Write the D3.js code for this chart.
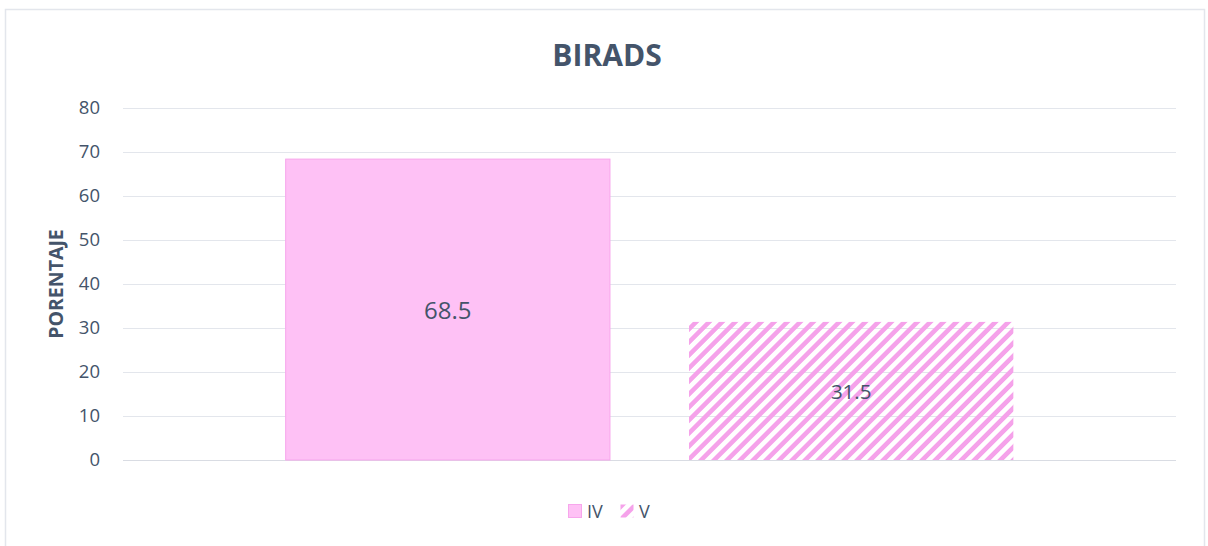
<!doctype html>
<html>
<head>
<meta charset="utf-8">
<script src="https://d3js.org/d3.v7.min.js"></script>
<style>
  body { margin: 0; background: #fff; }
  text { font-family: "Open Sans", "Noto Sans", sans-serif; fill: #44546A; }
</style>
</head>
<body>
<svg width="1208" height="546"></svg>
<script>
    var series = ["IV", "V"];
    var values = [68.5, 31.5];
    var yTicks = [0, 10, 20, 30, 40, 50, 60, 70, 80];
    var title = "BIRADS";
    var yTitle = "PORENTAJE";

    var svg = d3.select("svg"),
        plotLeft = 123, plotRight = 1176,
        plotTop = 108, plotBottom = 460;

    // chart frame
    svg.append("rect")
       .attr("x", 5.5).attr("y", 9.5)
       .attr("width", 1199).attr("height", 545)
       .attr("fill", "#fff")
       .attr("stroke", "#E3E6EC")
       .attr("stroke-width", 1.5);

    var defs = svg.append("defs");
    defs.append("pattern")
        .attr("id", "hatch")
        .attr("patternUnits", "userSpaceOnUse")
        .attr("width", 9.2).attr("height", 9.2)
        .attr("patternTransform", "rotate(45)")
      .append("rect")
        .attr("width", 4.6).attr("height", 9.2)
        .attr("fill", "#F5A2EA");

    var x = d3.scaleBand().domain(series).range([plotLeft, plotRight])
              .paddingInner(0.1935).paddingOuter(0.402);
    var y = d3.scaleLinear().domain([0, 80]).range([plotBottom, plotTop]);

    // gridlines
    svg.append("g").selectAll("line")
       .data(yTicks).enter().append("line")
       .attr("x1", plotLeft).attr("x2", plotRight)
       .attr("y1", function(d) { return y(d) + 0.5; })
       .attr("y2", function(d) { return y(d) + 0.5; })
       .attr("stroke", function(d) { return d === 0 ? "#D9DCE3" : "#E3E6EC"; })
       .attr("stroke-width", 1.2);

    var yAxis = svg.append("g")
       .attr("transform", "translate(" + plotLeft + ",0)")
       .call(d3.axisLeft(y).tickValues(yTicks).tickSize(0).tickPadding(23));
    yAxis.select(".domain").remove();
    yAxis.selectAll("text")
         .attr("font-size", "18.5px")
         .style("font-family", "'Open Sans', sans-serif");

    // bars
    svg.append("g").selectAll("rect")
       .data(values).enter().append("rect")
       .attr("x", function(d, i) { return x(series[i]) + 0.5; })
       .attr("y", function(d) { return y(d) + 0.5; })
       .attr("width", x.bandwidth() - 1)
       .attr("height", function(d) { return plotBottom - y(d) - 0.5; })
       .attr("fill", function(d, i) { return i === 0 ? "#FEC1F5" : "url(#hatch)"; })
       .attr("stroke", function(d, i) { return i === 0 ? "#F7A6EC" : "none"; })
       .attr("stroke-width", 1);

    // data labels
    svg.append("g").selectAll("text")
       .data(values).enter().append("text")
       .attr("x", function(d, i) { return x(series[i]) + x.bandwidth() / 2; })
       .attr("y", function(d, i) { return y(d / 2) + (i === 0 ? 10 : 8); })
       .attr("text-anchor", "middle")
       .attr("font-size", function(d, i) { return i === 0 ? "24px" : "20.5px"; })
       .text(function(d) { return d; });

    svg.append("text")
       .attr("x", 607).attr("y", 66)
       .attr("text-anchor", "middle")
       .attr("font-size", "30px")
       .attr("font-weight", "bold")
       .text(title);

    svg.append("text")
       .attr("transform", "translate(63,284) rotate(-90)")
       .attr("text-anchor", "middle")
       .attr("font-size", "19.5px")
       .attr("font-weight", "bold")
       .text(yTitle);

    // legend
    var legend = svg.append("g").attr("transform", "translate(568,504)");
    var items = legend.selectAll("g").data(series).enter().append("g")
       .attr("transform", function(d, i) { return "translate(" + (i * 52) + ",0)"; });
    items.append("rect")
       .attr("x", 0.5).attr("y", 0.5)
       .attr("width", 13).attr("height", 13)
       .attr("fill", function(d, i) { return i === 0 ? "#FEC1F5" : "url(#hatch)"; })
       .attr("stroke", function(d, i) { return i === 0 ? "#F7A6EC" : "none"; });
    items.append("text")
       .attr("x", 19).attr("y", 14)
       .attr("font-size", "18px")
       .text(function(d) { return d; });
</script>
</body>
</html>
